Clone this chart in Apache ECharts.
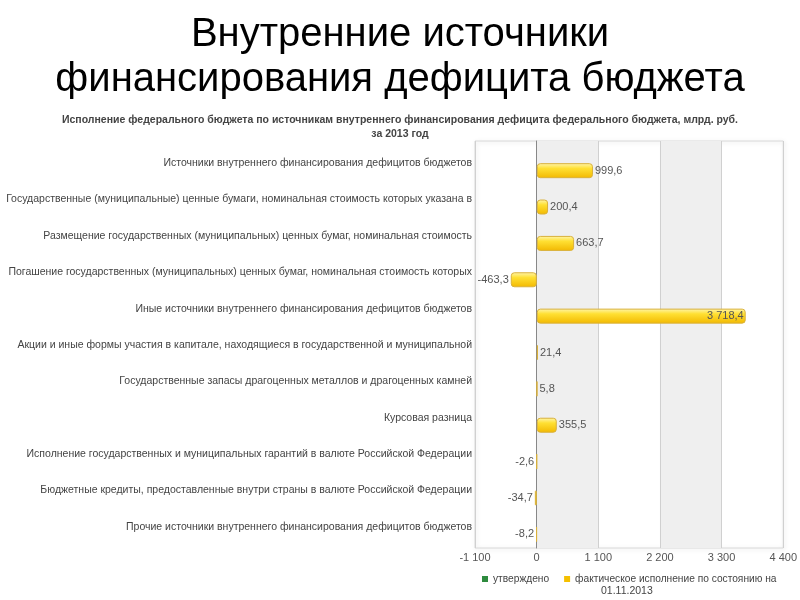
<!DOCTYPE html>
<html><head><meta charset="utf-8">
<script src="https://cdn.jsdelivr.net/npm/echarts@6/dist/echarts.min.js"></script>
<style>html,body{margin:0;padding:0;background:#fff}#c{width:800px;height:600px}</style>
</head><body><div id="c"></div>
<script>
const categories = [
  'Источники внутреннего финансирования дефицитов бюджетов',
  'Государственные (муниципальные) ценные бумаги, номинальная стоимость которых указана в',
  'Размещение государственных (муниципальных) ценных бумаг, номинальная стоимость',
  'Погашение государственных (муниципальных) ценных бумаг, номинальная стоимость которых',
  'Иные источники внутреннего финансирования дефицитов бюджетов',
  'Акции и иные формы участия в капитале, находящиеся в государственной и муниципальной',
  'Государственные запасы драгоценных металлов и драгоценных камней',
  'Курсовая разница',
  'Исполнение государственных и муниципальных гарантий в валюте Российской Федерации',
  'Бюджетные кредиты, предоставленные внутри страны в валюте Российской Федерации',
  'Прочие источники внутреннего финансирования дефицитов бюджетов'
];
const approved = [null, null, null, null, null, null, null, null, null, null, null];
const actual = [999.6, 200.4, 663.7, -463.3, 3718.4, 21.4, 5.8, 355.5, -2.6, -34.7, -8.2];
const seriesNames = ['утверждено', 'фактическое исполнение по состоянию на\n01.11.2013'];
const axisMin = -1100, axisMax = 4400, axisStep = 1100;

function fmt(v, dec) {
  const neg = v < 0; v = Math.abs(v);
  let s = dec ? v.toFixed(1) : String(Math.round(v));
  let [i, d] = s.split('.');
  i = i.replace(/\B(?=(\d{3})+(?!\d))/g, ' ');
  return (neg ? '-' : '') + i + (d ? ',' + d : '');
}

const FONT = 'Liberation Sans, Arial, sans-serif';
const chart = echarts.init(document.getElementById('c'));
const actualData = actual.map(v => ({
  value: v,
  label: { position: v > 3000 ? 'insideRight' : (v < 0 ? 'left' : 'right') }
}));

chart.setOption({
  animation: false,
  textStyle: { fontFamily: FONT },
  title: [
    { text: 'Внутренние источники\nфинансирования дефицита бюджета', left: 'center', top: 7,
      textStyle: { fontSize: 40, fontWeight: 'normal', color: '#000', lineHeight: 45, fontFamily: FONT } },
    { text: 'Исполнение федерального бюджета по источникам внутреннего финансирования дефицита федерального бюджета, млрд. руб.\nза 2013 год',
      left: 'center', top: 108,
      textStyle: { fontSize: 10.5, fontWeight: 'bold', color: '#444', lineHeight: 14, fontFamily: FONT } }
  ],
  legend: {
    left: 477, top: 569, itemWidth: 6, itemHeight: 6, itemGap: 15, icon: 'rect',
    textStyle: { fontSize: 10.2, color: '#444' },
    formatter: n => n.split('\n')[0],
    data: [
      { name: seriesNames[0], itemStyle: { color: '#2e8b3e', borderWidth: 0 } },
      { name: seriesNames[1], itemStyle: { color: '#f5c000', borderWidth: 0 } }
    ]
  },
  graphic: [
    { type: 'text', left: 601, top: 586,
      style: { text: seriesNames[1].split('\n')[1], fill: '#444', font: '10.5px ' + FONT } }
  ],
  grid: [
    { left: 475, right: 16, top: 141, bottom: 52, show: true,
      borderColor: '#d8d8d8', borderWidth: 1, backgroundColor: 'transparent',
      shadowColor: 'rgba(0,0,0,0.15)', shadowBlur: 4, shadowOffsetX: 1, shadowOffsetY: 1 },
    { left: 475, right: 16, top: 145, bottom: 55 }
  ],
  xAxis: [
    { type: 'value', gridIndex: 0, min: axisMin, max: axisMax, interval: axisStep,
      axisLine: { show: false }, axisTick: { show: false },
      axisLabel: { color: '#555', fontSize: 11, margin: 4, formatter: v => fmt(v, false) },
      splitLine: { show: true, lineStyle: { color: '#d0d0d0' } },
      splitArea: { show: true, areaStyle: { color: ['rgba(255,255,255,0)', '#efefef'] } } },
    { type: 'value', gridIndex: 1, min: axisMin, max: axisMax, interval: axisStep, show: false }
  ],
  yAxis: [
    { type: 'category', gridIndex: 0, data: categories, inverse: true,
      axisLine: { show: true, onZero: true, lineStyle: { color: '#888' } },
      axisTick: { show: false }, axisLabel: { show: false } },
    { type: 'category', gridIndex: 1, data: categories, inverse: true,
      axisLine: { show: false }, axisTick: { show: false },
      axisLabel: { color: '#444', fontSize: 10.5, margin: 3 } }
  ],
  series: [
    { name: seriesNames[0], type: 'bar', xAxisIndex: 1, yAxisIndex: 1, data: approved, barWidth: 15, barGap: '0%',
      itemStyle: { color: '#2e8b3e' } },
    { name: seriesNames[1], type: 'bar', xAxisIndex: 1, yAxisIndex: 1, data: actualData, barWidth: 15, barGap: '0%',
      itemStyle: {
        color: new echarts.graphic.LinearGradient(0, 0, 0, 1, [
          { offset: 0, color: '#fff6b0' }, { offset: 0.35, color: '#ffe033' },
          { offset: 1, color: '#f2b800' }]),
        borderColor: '#d9b13a', borderWidth: 1, borderRadius: 3
      },
      label: { show: true, color: '#555', fontSize: 11, distance: 2,
        formatter: p => fmt(p.value, true) }
    }
  ]
});
</script></body></html>
